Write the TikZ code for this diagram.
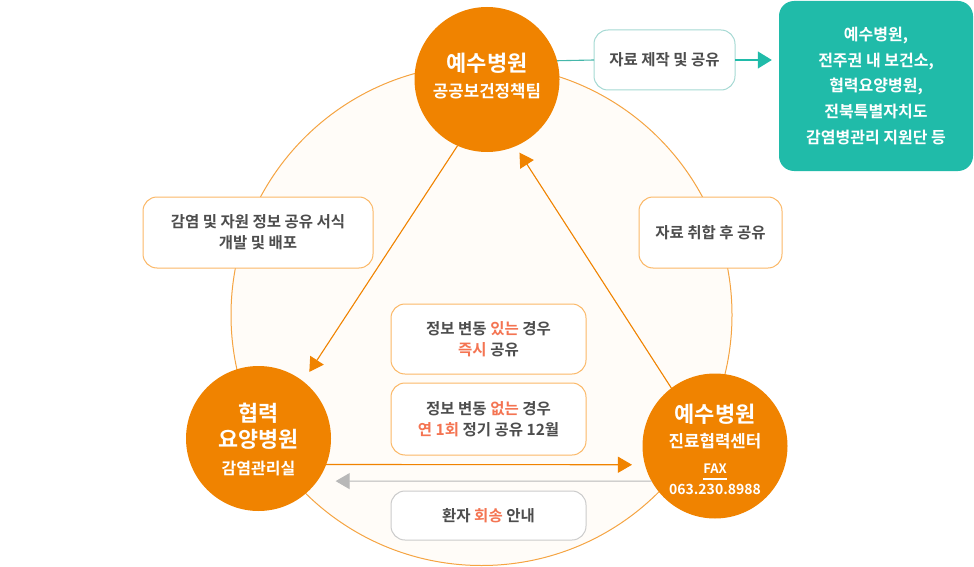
\documentclass[tikz,border=0pt]{standalone}
\usepackage{fontspec}
\setmainfont{Noto Sans CJK KR}[BoldFont={Noto Sans CJK KR Bold}]
\usetikzlibrary{arrows.meta}
\definecolor{org}{HTML}{F08300}
\definecolor{ringc}{HTML}{F5A442}
\definecolor{ringfill}{HTML}{FFFCF8}
\definecolor{boxorg}{HTML}{FBB867}
\definecolor{tealc}{HTML}{20BBA9}
\definecolor{teallight}{HTML}{A5D9D3}
\definecolor{tealline}{HTML}{45B7AA}
\definecolor{txtgray}{HTML}{4D4D4D}
\definecolor{hl}{HTML}{F47452}
\definecolor{garr}{HTML}{B8B8B8}
\definecolor{gbox}{HTML}{CBCBCB}
\newcommand\faxul[1]{{\setbox0\hbox{#1}\rlap{\rule[-6pt]{\wd0}{1.4pt}}\box0}}
\newcommand\hlt[1]{\textcolor{hl}{#1}}
\begin{document}
\begin{tikzpicture}[x=1pt,y=-1pt,
  bignode/.style={circle, fill=org, draw=none, minimum size=145pt, inner sep=0pt, outer sep=0pt, text=white, align=center},
  infobox/.style={draw=boxorg, line width=1pt, rounded corners=14pt, fill=white, inner sep=0pt, outer sep=0pt,
    text=txtgray, align=center, font=\bfseries\fontsize{15.5}{21}\selectfont},
  obox/.style={infobox},
  gbx/.style={infobox, draw=gbox},
  tbx/.style={infobox, draw=teallight},
  oline/.style={draw=org, line width=1.1pt, -{Triangle[length=14pt,width=16pt]}},
  gline/.style={draw=garr, line width=1.1pt, -{Triangle[length=14pt,width=16pt]}},
  tline/.style={draw=tealline, line width=1.1pt},
  tarrow/.style={draw=tealline, line width=1.1pt, -{Triangle[length=14pt,width=17pt]}, tealc},
]
\useasboundingbox (0,0) rectangle (974,567);

% big ring
\node[circle, minimum size=501pt, inner sep=0pt, draw=ringc, line width=1pt, fill=ringfill] (ring) at (481.5,315) {};

% boxes
\node[obox, minimum width=230pt, minimum height=71pt] (form) at (258,232.5)
  {감염 및 자원 정보 공유 서식\\개발 및 배포};
\node[obox, minimum width=143pt, minimum height=71pt] (collect) at (710.5,232.5)
  {자료 취합 후 공유};
\node[obox, minimum width=195pt, minimum height=70pt] (change) at (488.5,339)
  {정보 변동 \hlt{있는} 경우\\\hlt{즉시} 공유};
\node[obox, minimum width=195pt, minimum height=72pt] (nochange) at (488.5,419)
  {정보 변동 \hlt{없는} 경우\\\hlt{연 1회} 정기 공유 12월};
\node[gbx, minimum width=195pt, minimum height=49pt] (return) at (488.5,515.5)
  {환자 \hlt{회송} 안내};
\node[tbx, minimum width=141pt, minimum height=60pt] (make) at (664.5,60)
  {자료 제작 및 공유};
\node[fill=tealc, rounded corners=15pt, minimum width=194pt, minimum height=170pt, inner sep=0pt,
  text=white, align=center, font=\bfseries\fontsize{16}{25.6}\selectfont] (target) at (876,86)
  {예수병원,\\전주권 내 보건소,\\협력요양병원,\\전북특별자치도\\감염병관리 지원단 등};

% main nodes
\node[bignode, font=\bfseries\fontsize{22}{26}\selectfont] (top) at (487,79.5)
  {예수병원\\{\fontsize{16.8}{26}\selectfont 공공보건정책팀\rule[-9pt]{0pt}{0pt}}};
\node[bignode, font=\bfseries\fontsize{21.8}{26}\selectfont] (left) at (258.5,438.5)
  {\rule{0pt}{20pt}협력\\요양병원\\[0.5pt]{\fontsize{16}{26}\selectfont 감염관리실}};
\node[bignode, font=\bfseries\fontsize{22}{21}\selectfont] (right) at (715,446)
  {\rule{0pt}{25pt}예수병원\\[4.3pt]{\fontsize{16.8}{21}\selectfont 진료협력센터}\\[5.5pt]{\fontsize{13}{21}\selectfont\faxul{FAX}}\\{\fontsize{14}{21}\selectfont 063.230.8988}};

% connectors
\draw[oline, shorten >=11.3pt] (top.246.7) -- (left.52.4);
\draw[oline, shorten >=7.6pt] (right.127.4) -- (top.-67.8);
\draw[oline, shorten >=13pt] (left.-21.4) -- (right.195.2);
\draw[gline, shorten >=18.5pt] (right.209.8) -- (left.-36.9);
\draw[tline] (top.15.7) -- (make.west);
\draw[tarrow, shorten >=7pt] (make.east) -- (make.east -| target.west);
\end{tikzpicture}
\end{document}
